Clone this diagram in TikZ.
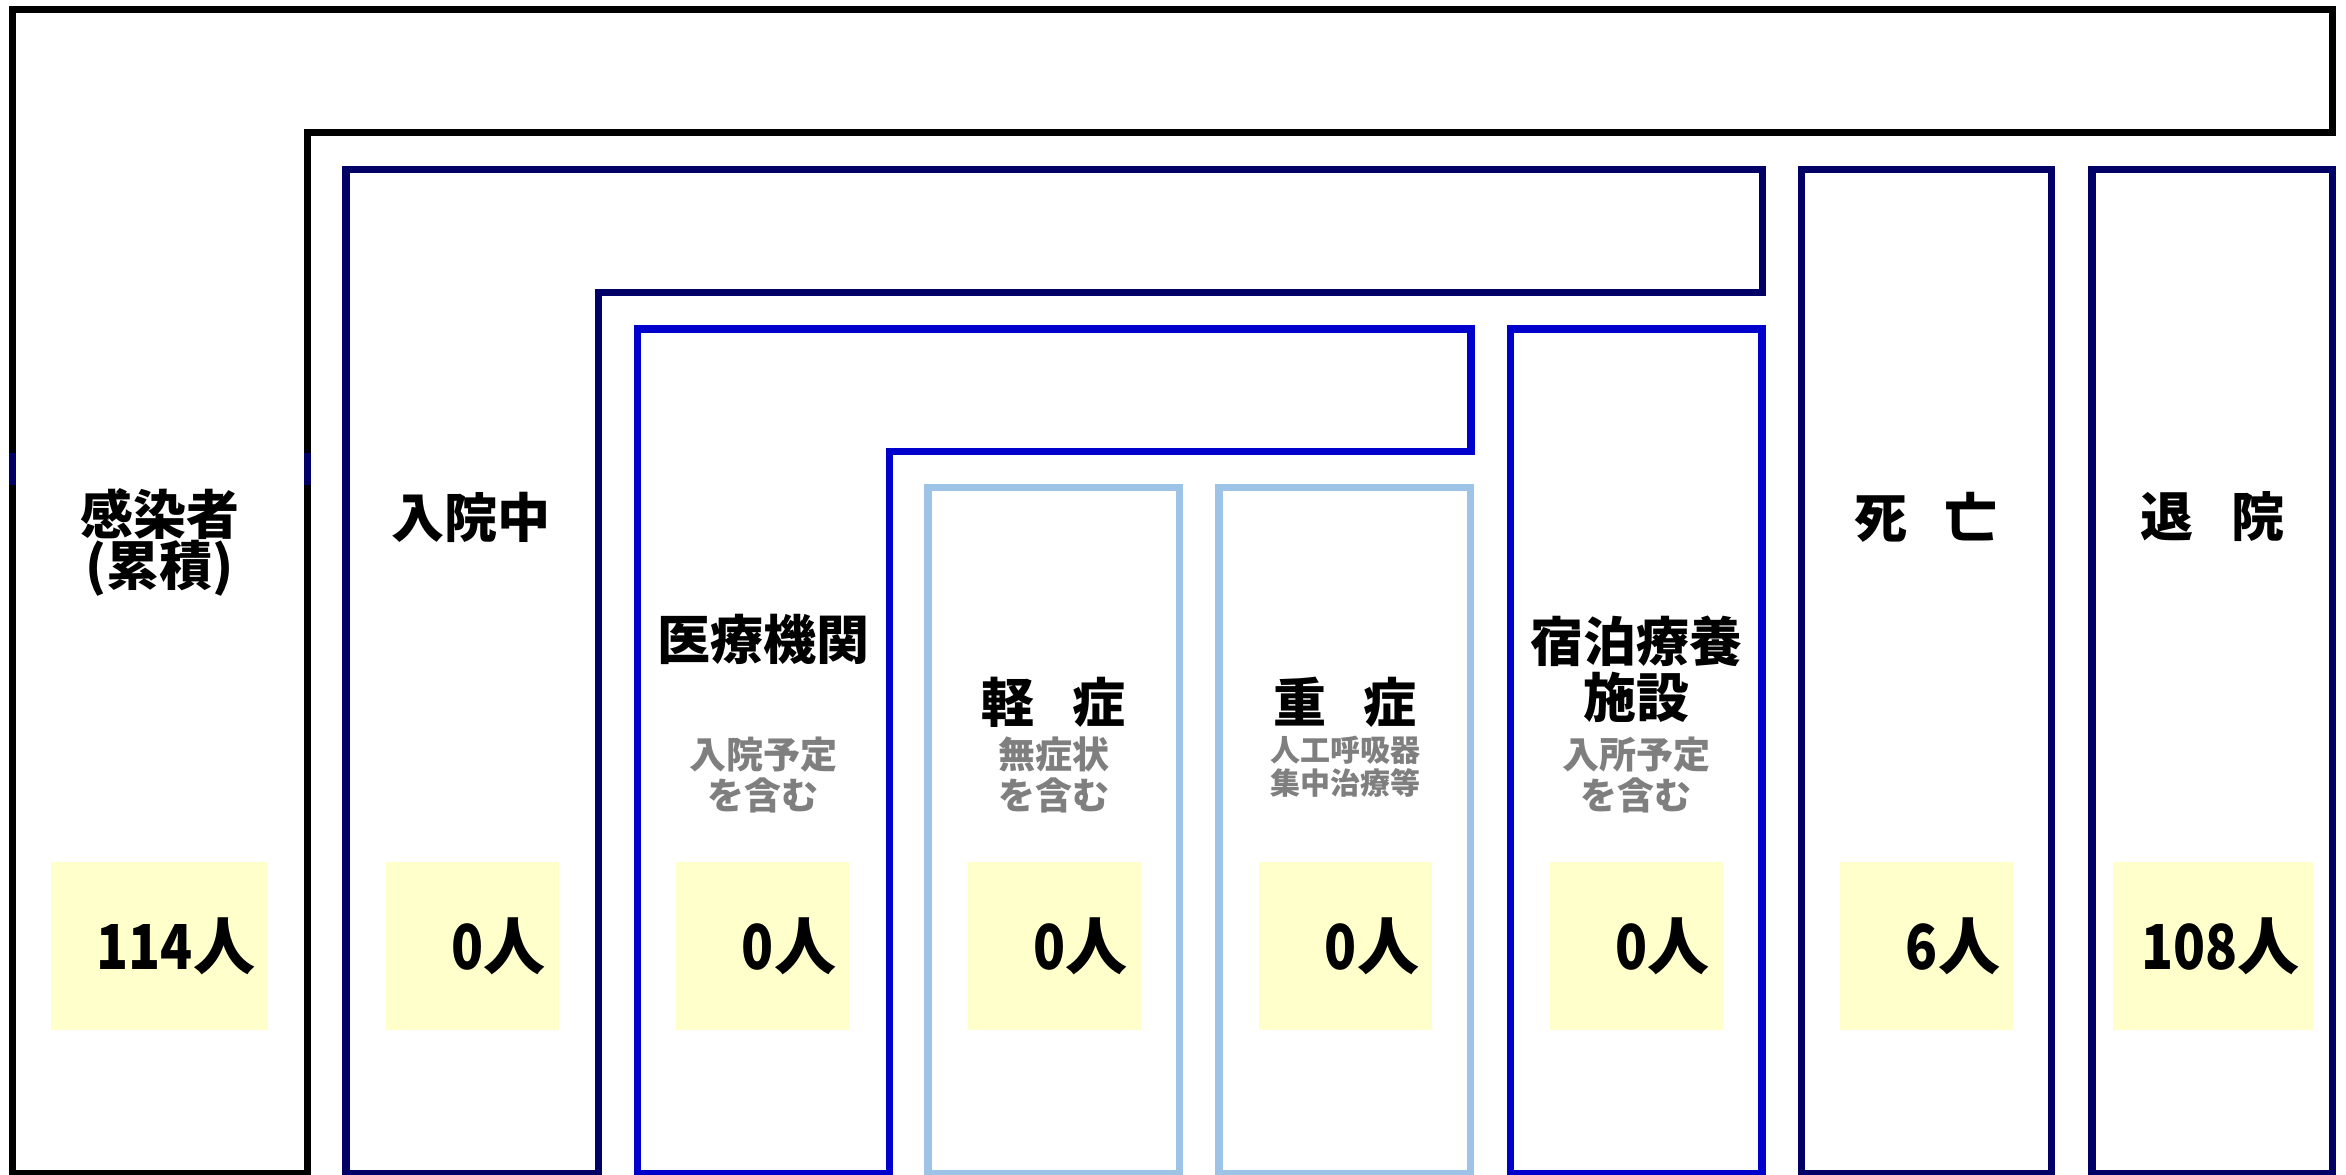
\documentclass[tikz,border=0pt]{standalone}
\usepackage{fontspec}
\usepackage{graphicx}
\setmainfont{Noto Sans CJK JP}
\definecolor{navyc}{HTML}{000066}
\definecolor{bluec}{HTML}{0000CC}
\definecolor{lightc}{HTML}{9DC3E6}
\definecolor{yelc}{HTML}{FFFFCC}
\definecolor{grayc}{HTML}{7F7F7F}
\newcommand\digs[1]{\scalebox{0.85}[1]{#1}}
\begin{document}
\begin{tikzpicture}[x=0.5pt,y=-0.5pt,
  frame/.style={line width=3.75pt, line join=miter},
  title/.style={font=\fontsize{26.5}{25.5}\selectfont\bfseries, inner sep=0pt, align=center, text=black},
  sub/.style={font=\fontsize{18.5}{20.5}\selectfont\bfseries, inner sep=0pt, align=center, text=grayc},
  subsmall/.style={font=\fontsize{15}{16.5}\selectfont\bfseries, inner sep=0pt, align=center, text=grayc},
  numbox/.style={fill=yelc, draw=none, inner sep=0pt, minimum height=84pt},
  num/.style={font=\fontsize{31}{31}\selectfont\bfseries, inner sep=0pt, anchor=east}]
\path[use as bounding box] (0,0) rectangle (2346,1174);
% frames
\draw[frame, black] (12.5,1173.5) -- (12.5,9.5) -- (2332.6,9.5) -- (2332.6,132.6) -- (307.5,132.6) -- (307.5,1173.5) -- cycle;
\draw[frame, navyc] (12.5,452.7) -- (12.5,485.3);
\draw[frame, navyc] (307.5,452.7) -- (307.5,485.3);
\draw[frame, navyc] (346,1173.5) -- (346,169.3) -- (1762.3,169.3) -- (1762.3,292.4) -- (598.5,292.4) -- (598.5,1173.5) -- cycle;
\draw[frame, bluec] (637.5,1173.5) -- (637.5,329) -- (1471,329) -- (1471,451.6) -- (889.3,451.6) -- (889.3,1173.5) -- cycle;
\draw[frame, lightc] (928,487.3) rectangle (1179.5,1173.5);
\draw[frame, lightc] (1219,487.3) rectangle (1470.3,1173.5);
\draw[frame, bluec] (1510.3,329) rectangle (1762,1173.5);
\draw[frame, navyc] (1801.4,169.3) rectangle (2051.7,1173.5);
\draw[frame, navyc] (2092,169.3) rectangle (2332.6,1173.5);
% titles
\node[title] (t1) at (159.5,542) {感染者\\(累積)};
\node[title] (t2) at (470.5,517) {入院中};
\node[title] (t3) at (763.5,639) {医療機関};
\node[title] (t4) at (1053.5,702.5) {軽\hspace{0.7em}症};
\node[title] (t5) at (1345,702.5) {重\hspace{0.7em}症};
\node[title, font=\fontsize{26.5}{28}\selectfont\bfseries] (t6) at (1636,669) {宿泊療養\\施設};
\node[title] (t7) at (1926.3,517) {死\hspace{0.7em}亡};
\node[title] (t8) at (2212.5,517) {退\hspace{0.7em}院};
% subtitles
\node[sub] (s3) at (763,774.5) {入院予定\\を含む};
\node[sub] (s4) at (1054,774.5) {無症状\\を含む};
\node[subsmall] (s5) at (1345,766.5) {人工呼吸器\\集中治療等};
\node[sub] (s6) at (1636,775) {入所予定\\を含む};
% number boxes
\node[numbox, minimum width=108.5pt] (b1) at (159.5,946) {};
\node[numbox, minimum width=86.5pt] (b2) at (472,946) {};
\node[numbox, minimum width=86.5pt] (b3) at (762.5,946) {};
\node[numbox, minimum width=86.5pt] (b4) at (1054,946) {};
\node[numbox, minimum width=86.5pt] (b5) at (1345.5,946) {};
\node[numbox, minimum width=86.5pt] (b6) at (1636,946) {};
\node[numbox, minimum width=86.5pt] (b7) at (1926.5,946) {};
\node[numbox, minimum width=100pt] (b8) at (2212.5,946) {};
\node[num] (n1) at ([xshift=-6.5pt]b1.east) {\digs{114}人};
\node[num] (n2) at ([xshift=-6.5pt]b2.east) {\digs{0}人};
\node[num] (n3) at ([xshift=-6.5pt]b3.east) {\digs{0}人};
\node[num] (n4) at ([xshift=-6.5pt]b4.east) {\digs{0}人};
\node[num] (n5) at ([xshift=-6.5pt]b5.east) {\digs{0}人};
\node[num] (n6) at ([xshift=-6.5pt]b6.east) {\digs{0}人};
\node[num] (n7) at ([xshift=-6.5pt]b7.east) {\digs{6}人};
\node[num] (n8) at ([xshift=-6.5pt]b8.east) {\digs{108}人};
\end{tikzpicture}
\end{document}
